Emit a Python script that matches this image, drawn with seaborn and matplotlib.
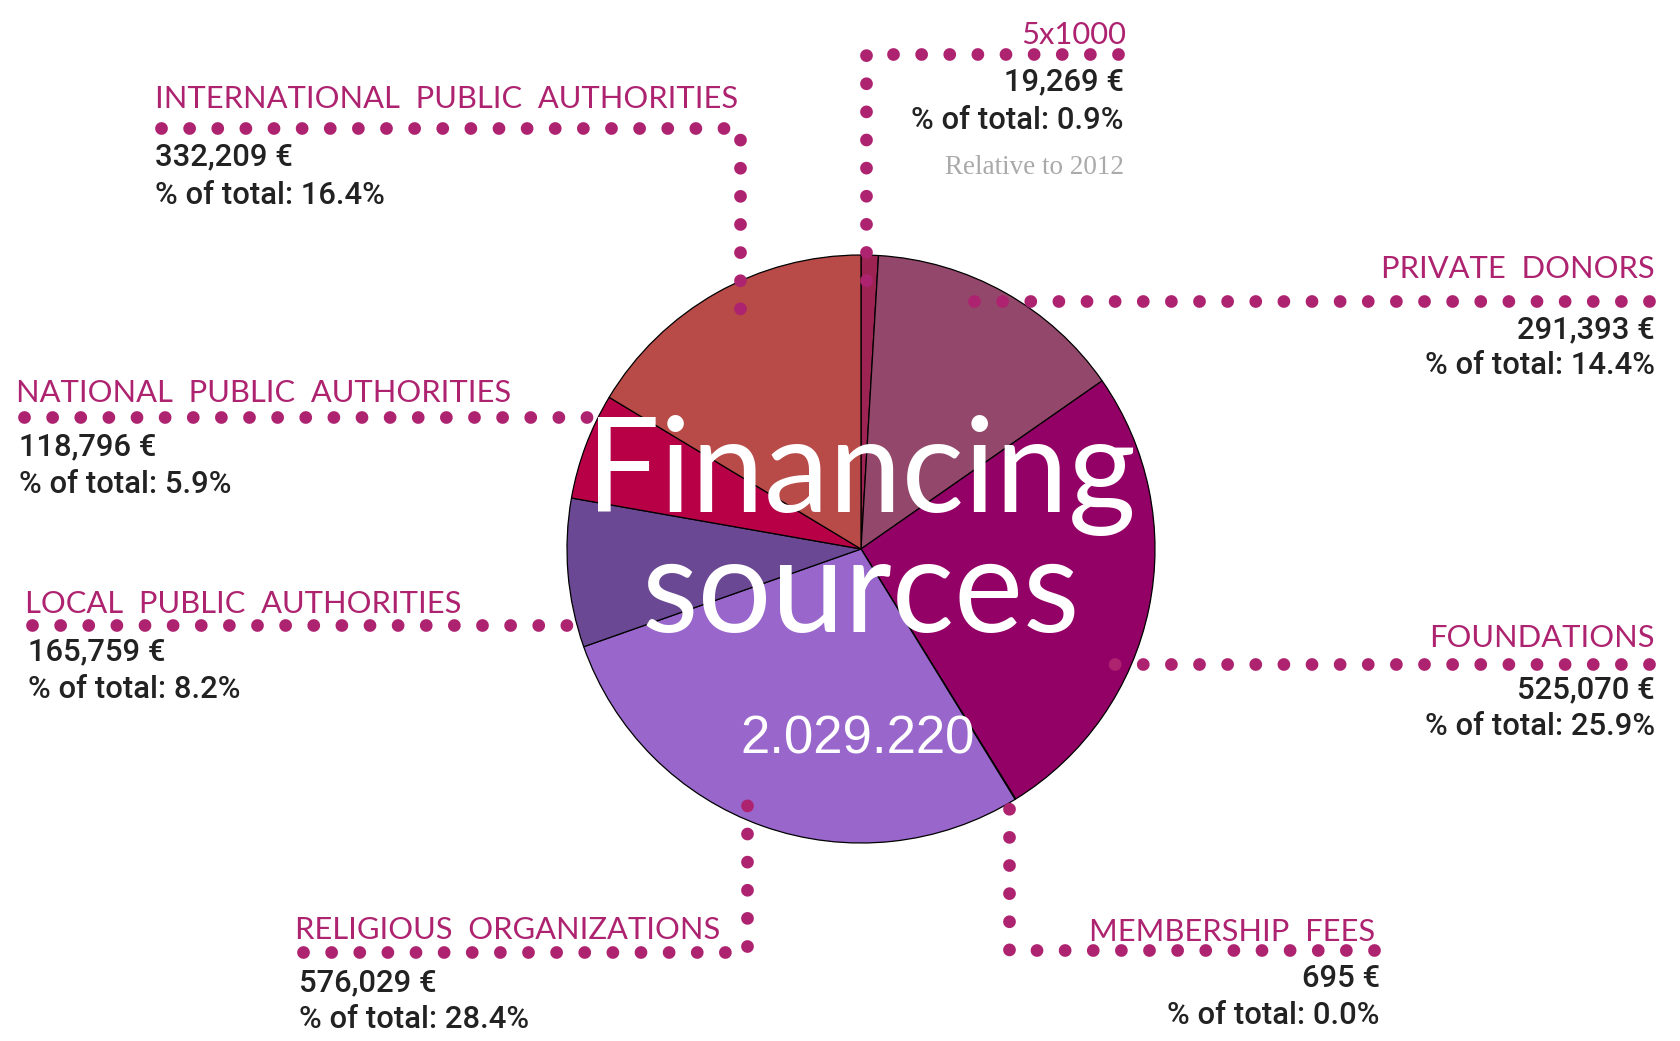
import numpy as np
import matplotlib
matplotlib.use("Agg")
import matplotlib.pyplot as plt
import seaborn as sns

# ── Data ──────────────────────────────────────────────────────────────────────
sources = [
    "5x1000", "PRIVATE  DONORS", "FOUNDATIONS", "MEMBERSHIP  FEES",
    "RELIGIOUS  ORGANIZATIONS", "LOCAL  PUBLIC  AUTHORITIES",
    "NATIONAL  PUBLIC  AUTHORITIES", "INTERNATIONAL  PUBLIC  AUTHORITIES",
]
amounts = [19269, 291393, 525070, 695, 576029, 165759, 118796, 332209]
slice_colors = ["#9C2352", "#93476B", "#930066", "#930066",
                "#9966CC", "#6B4894", "#B80047", "#B84A48"]

total = sum(amounts)
shares = [100 * a / total for a in amounts]

# ── Style ─────────────────────────────────────────────────────────────────────
sns.set_theme(style="white")
plt.rcParams["font.family"] = ["Lato", "DejaVu Sans"]

DOT = "#AE2370"
LABEL = "#AE2370"
VALUE = "#222222"
VALUE_FONT = ["Roboto", "Liberation Sans", "DejaVu Sans"]

# label layout (pixel coords, y downwards): leader path, text anchor, alignment,
# baseline of the title and of the two value lines
layout = {
    "5x1000": dict(path=[(1118, 54), (866, 54), (866, 290)], ha="right",
                   tx=1126, vx=1124, ty=44, vy=(90, 129)),
    "PRIVATE  DONORS": dict(path=[(1649, 301), (965, 301)], ha="right",
                            tx=1655, vx=1655, ty=278, vy=(338, 374)),
    "FOUNDATIONS": dict(path=[(1649, 664), (1112, 664)], ha="right",
                        tx=1655, vx=1655, ty=647, vy=(698, 735)),
    "MEMBERSHIP  FEES": dict(path=[(1374, 950), (1009, 950), (1009, 799)], ha="right",
                             tx=1375, vx=1380, ty=941, vy=(987, 1024)),
    "RELIGIOUS  ORGANIZATIONS": dict(path=[(303, 952), (747, 952), (747, 789)], ha="left",
                                     tx=295, vx=299, ty=939, vy=(991, 1028)),
    "LOCAL  PUBLIC  AUTHORITIES": dict(path=[(32, 625), (590, 625)], ha="left",
                                       tx=25, vx=28, ty=613, vy=(660, 698)),
    "NATIONAL  PUBLIC  AUTHORITIES": dict(path=[(24, 417), (602, 417)], ha="left",
                                          tx=16, vx=19, ty=402, vy=(455, 493)),
    "INTERNATIONAL  PUBLIC  AUTHORITIES": dict(path=[(161, 128), (740, 128), (740, 335)],
                                               ha="left", tx=155, vx=155, ty=108,
                                               vy=(165, 204)),
}

# ── Figure ────────────────────────────────────────────────────────────────────
fig = plt.figure(figsize=(16.81, 10.41), dpi=100)
ax = fig.add_axes([0, 0, 1, 1])

# y axis points down, so start at -90 and run "counterclockwise" to look clockwise
ax.pie(amounts, colors=slice_colors, startangle=-90, counterclock=True,
       center=(861, 549), radius=294,
       wedgeprops=dict(edgecolor="black", linewidth=0.9))

ax.set_xlim(0, 1681)
ax.set_ylim(1041, 0)
ax.set_aspect("equal")
ax.axis("off")

# centre titles
ax.text(861, 512, "Financing", color="white", fontsize=94, ha="center",
        va="baseline", zorder=5)
ax.text(861, 632, "sources", color="white", fontsize=94, ha="center",
        va="baseline", zorder=5)
ax.text(858, 754, f"{total:,}".replace(",", "."), color="white", fontsize=38,
        family=["Liberation Sans", "DejaVu Sans"], ha="center", va="baseline",
        zorder=5)

# leaders, titles and values
for name, amount, share in zip(sources, amounts, shares):
    lay = layout[name]
    xs, ys = zip(*lay["path"])
    ax.plot(xs, ys, color=DOT, lw=9.2, linestyle=(0, (0.001, 2.2)),
            dash_capstyle="round", solid_capstyle="round", zorder=4)
    ax.text(lay["tx"], lay["ty"], name, color=LABEL, fontsize=22.2,
            ha=lay["ha"], va="baseline")
    ax.text(lay["vx"], lay["vy"][0], f"{amount:,} €", color=VALUE, fontsize=22.3,
            family=VALUE_FONT, fontweight="medium", ha=lay["ha"], va="baseline")
    ax.text(lay["vx"], lay["vy"][1], f"% of total: {share:.1f}%", color=VALUE,
            fontsize=22.3, family=VALUE_FONT, fontweight="medium",
            ha=lay["ha"], va="baseline")

ax.text(1124, 174, "Relative to 2012", color="#AAAAAA", fontsize=19.5,
        family=["Liberation Serif", "DejaVu Serif"], ha="right", va="baseline")

fig.savefig("out.png", dpi=100)
